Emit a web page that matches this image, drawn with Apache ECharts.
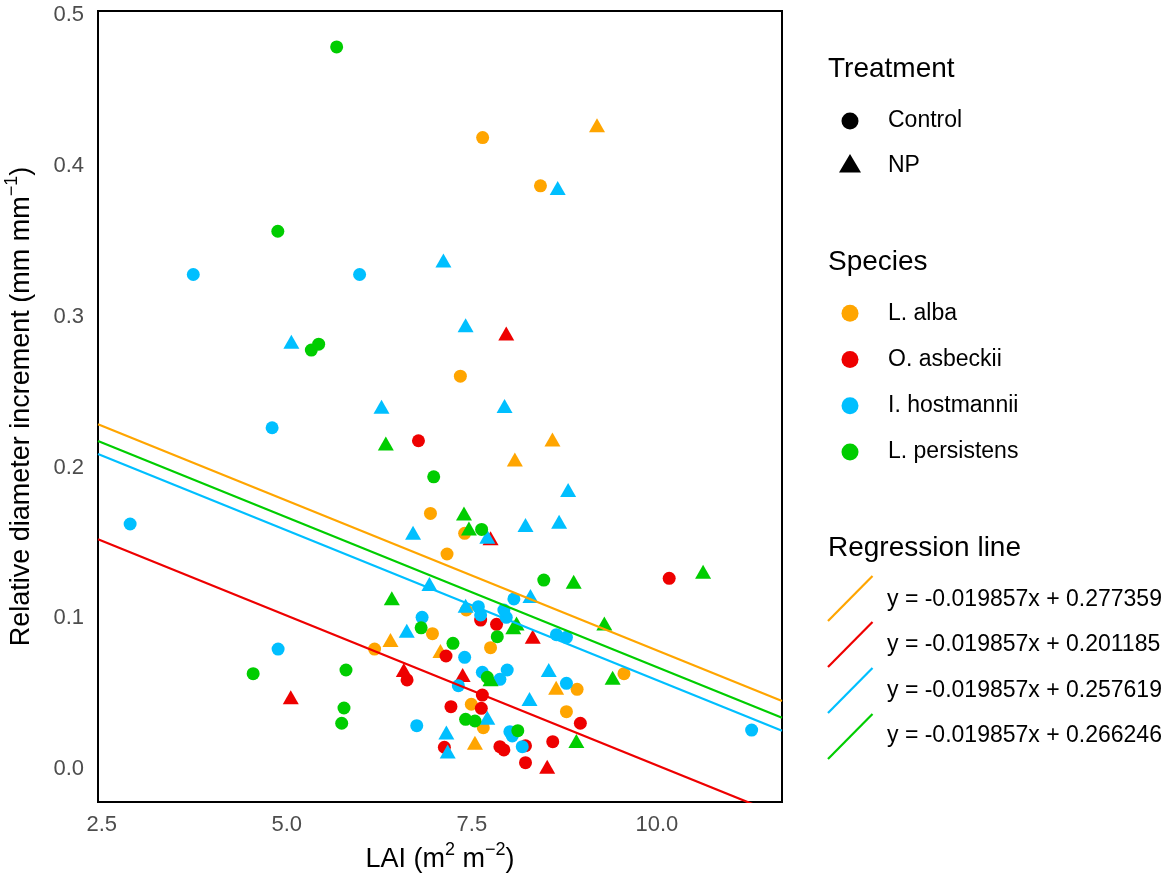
<!DOCTYPE html>
<html>
<head>
<meta charset="utf-8">
<title>LAI vs relative diameter increment</title>
<script src="https://cdn.jsdelivr.net/npm/echarts/dist/echarts.min.js"></script>
<style>
  html, body { margin: 0; padding: 0; background: #fff; }
  #myChart { width: 1172px; height: 885px; }
</style>
</head>
<body>
<div id="myChart"></div>
<script>
// [LAI, relative diameter increment]
const albaControl = [[7.646,0.4188],[8.427,0.3868],[7.345,0.2606],[6.941,0.1696],[7.403,0.1564],[7.165,0.1427],[6.968,0.0899],[6.186,0.0797],[7.426,0.1056],[7.753,0.0806],[9.555,0.0634],[8.922,0.053],[7.493,0.0431],[7.655,0.0276],[8.778,0.0382]]
const albaNP = [[9.191,0.427],[8.589,0.2187],[8.081,0.2054],[6.401,0.0857],[7.076,0.0784],[8.639,0.0541],[7.542,0.0176]]
const asbeckiiControl = [[6.779,0.2178],[10.166,0.1266],[7.619,0.0989],[7.834,0.0961],[7.151,0.0751],[6.625,0.0592],[7.218,0.0415],[7.129,0.0146],[7.642,0.0492],[7.628,0.0404],[8.966,0.0305],[7.879,0.015],[7.933,0.0128],[8.225,0.0156],[8.593,0.0183],[8.225,0.0044]]
const asbeckiiNP = [[7.965,0.2889],[7.753,0.1531],[6.581,0.0658],[5.054,0.0477],[7.376,0.0625],[8.323,0.0879],[8.518,0.0017]]
const hostmanniiControl = [[3.737,0.328],[5.984,0.328],[4.802,0.2264],[2.884,0.1626],[6.828,0.1007],[7.403,0.0742],[4.883,0.0797],[6.756,0.0289],[7.318,0.0554],[8.068,0.1129],[7.588,0.1078],[7.619,0.1023],[7.933,0.1056],[7.965,0.1007],[8.643,0.0892],[8.778,0.0875],[7.978,0.0658],[7.642,0.0643],[7.879,0.0596],[8.778,0.057],[8.014,0.0249],[8.046,0.0221],[8.181,0.015],[11.28,0.026]]
const hostmanniiNP = [[7.116,0.3373],[8.66,0.3854],[5.062,0.2834],[6.28,0.2403],[6.706,0.1568],[7.416,0.2944],[7.942,0.2408],[8.801,0.1851],[8.225,0.1619],[8.679,0.1641],[7.709,0.1541],[6.927,0.1228],[6.621,0.0918],[7.156,0.0243],[7.174,0.0117],[8.292,0.1148],[7.416,0.1084],[8.539,0.0658],[8.279,0.0466],[7.709,0.0342]]
const persistensControl = [[5.674,0.4789],[4.879,0.3567],[5.332,0.2779],[5.431,0.2818],[6.985,0.1939],[7.632,0.159],[6.815,0.0938],[7.245,0.0835],[4.546,0.0634],[5.8,0.0658],[5.773,0.0406],[5.742,0.0305],[7.416,0.0331],[7.542,0.032],[8.472,0.1254],[7.844,0.0879],[7.709,0.061],[8.121,0.0256]]
const persistensNP = [[6.338,0.216],[7.394,0.1696],[7.461,0.1597],[6.419,0.1133],[8.876,0.1243],[10.624,0.131],[8.104,0.0967],[8.06,0.0941],[9.29,0.0967],[7.753,0.0596],[9.402,0.0607],[8.912,0.0188]]

const species = ['L. alba', 'O. asbeckii', 'I. hostmannii', 'L. persistens']
const speciesColors = ['#FFA500', '#EE0000', '#00BFFF', '#00CD00']
const treatments = ['Control', 'NP']
const slope = -0.019857
const intercepts = [0.277359, 0.201185, 0.257619, 0.266246]
const xTicks = [2.5, 5.0, 7.5, 10.0]
const yTicks = [0.0, 0.1, 0.2, 0.3, 0.4, 0.5]

const xMin = 2.45, xMax = 11.69
const yMin = -0.0217, yMax = 0.5027

const groups = [
    [albaControl, albaNP],
    [asbeckiiControl, asbeckiiNP],
    [hostmanniiControl, hostmanniiNP],
    [persistensControl, persistensNP]
]

const font = 'Liberation Sans, Arial, Helvetica, sans-serif'

let myChart = echarts.init(document.getElementById('myChart'), null, { renderer: 'canvas' })

let series = []
groups.forEach((pair, i) => {
    pair.forEach((pts, j) => {
        series.push({
            name: species[i] + ' ' + treatments[j],
            type: 'scatter',
            data: pts,
            symbol: j === 0 ? 'circle' : 'triangle',
            symbolSize: j === 0 ? 13 : [16, 14],
            itemStyle: { color: speciesColors[i], opacity: 1 },
            z: 2,
            silent: true
        })
    })
})

intercepts.forEach((b, i) => {
    series.push({
        name: 'fit ' + species[i],
        type: 'line',
        data: [[xMin, b + slope * xMin], [xMax, b + slope * xMax]],
        showSymbol: false,
        clip: true,
        lineStyle: { color: speciesColors[i], width: 2.2 },
        z: 3,
        silent: true
    })
})

// legend drawn by hand (ggplot style)
let graphics = []
const legendX = 828, keyX = 850, labelX = 888
const titleStyle = { fill: '#000', fontSize: 28, fontFamily: font, verticalAlign: 'middle' }
const labelStyle = { fill: '#000', fontSize: 23, fontFamily: font, verticalAlign: 'middle' }

graphics.push({ type: 'text', x: legendX, y: 69, style: Object.assign({ text: 'Treatment' }, titleStyle) })
graphics.push({ type: 'circle', shape: { cx: keyX, cy: 121, r: 8.5 }, style: { fill: '#000' } })
graphics.push({ type: 'text', x: labelX, y: 121, style: Object.assign({ text: treatments[0] }, labelStyle) })
graphics.push({ type: 'polygon', shape: { points: [[839, 172.5], [861, 172.5], [850, 154]] }, style: { fill: '#000' } })
graphics.push({ type: 'text', x: labelX, y: 166, style: Object.assign({ text: treatments[1] }, labelStyle) })

graphics.push({ type: 'text', x: legendX, y: 262, style: Object.assign({ text: 'Species' }, titleStyle) })
species.forEach((s, i) => {
    let cy = 313.3 + i * 46.2
    graphics.push({ type: 'circle', shape: { cx: keyX, cy: cy, r: 8.5 }, style: { fill: speciesColors[i] } })
    graphics.push({ type: 'text', x: labelX, y: cy, style: Object.assign({ text: s }, labelStyle) })
})

graphics.push({ type: 'text', x: legendX, y: 548, style: Object.assign({ text: 'Regression line' }, titleStyle) })
intercepts.forEach((b, i) => {
    let cy = 598.5 + i * 46
    graphics.push({
        type: 'line',
        shape: { x1: 828, y1: cy + 22.5, x2: 872.5, y2: cy - 22.5 },
        style: { stroke: speciesColors[i], lineWidth: 2.2 }
    })
    graphics.push({
        type: 'text', x: 887, y: cy + 1 - i * 0.5,
        style: Object.assign({ text: 'y = ' + slope.toFixed(6) + 'x + ' + b.toFixed(6) }, labelStyle)
    })
})

// superscripts: taller base line, small token pinned to the top
const nameStyle = {
    color: '#000', fontSize: 27, fontFamily: font, lineHeight: 38,
    rich: { sup: { fontSize: 18, lineHeight: 18, verticalAlign: 'top', color: '#000', fontFamily: font } }
}

let option = {
    animation: false,
    backgroundColor: '#fff',
    textStyle: { fontFamily: font },
    grid: {
        left: 98, right: 390, top: 11, bottom: 83,
        show: true,
        borderColor: '#000',
        borderWidth: 2,
        outerBoundsMode: 'none'
    },
    xAxis: {
        type: 'value',
        min: xMin,
        max: xMax,
        name: 'LAI (m{sup|2} m{sup|−2})',
        nameLocation: 'middle',
        nameGap: 39,
        nameTextStyle: nameStyle,
        axisLine: { show: false },
        axisTick: { show: false },
        splitLine: { show: false },
        axisLabel: {
            customValues: xTicks,
            formatter: v => v.toFixed(1),
            color: '#4D4D4D',
            fontSize: 22,
            fontFamily: font,
            margin: 12
        }
    },
    yAxis: {
        type: 'value',
        min: yMin,
        max: yMax,
        name: 'Relative diameter increment (mm mm{sup|−1})',
        nameLocation: 'middle',
        nameGap: 57,
        nameTextStyle: nameStyle,
        axisLine: { show: false },
        axisTick: { show: false },
        splitLine: { show: false },
        axisLabel: {
            customValues: yTicks,
            formatter: v => v.toFixed(1),
            color: '#4D4D4D',
            fontSize: 22,
            fontFamily: font,
            margin: 14
        }
    },
    graphic: graphics,
    series: series
}

option && myChart.setOption(option)
</script>
</body>
</html>
